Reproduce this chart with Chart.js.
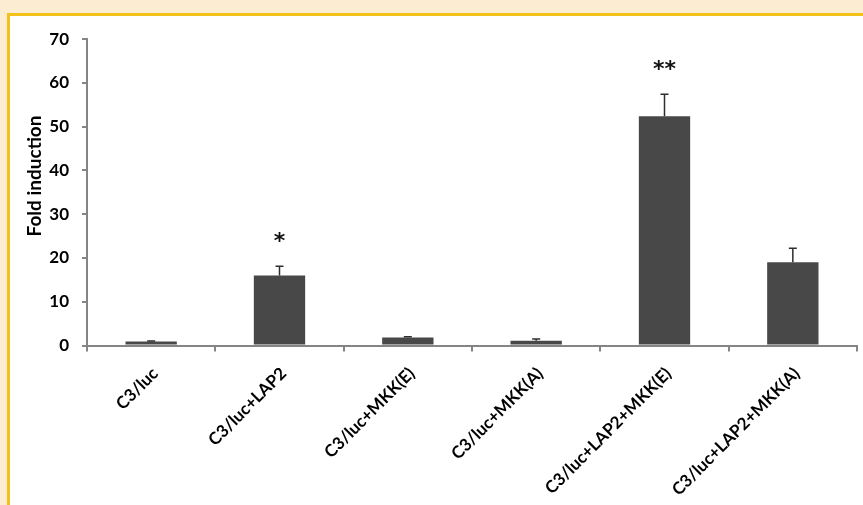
<!DOCTYPE html>
<html>
<head>
<meta charset="utf-8">
<script src="https://cdn.jsdelivr.net/npm/chart.js@4"></script>
<style>
  html, body { margin: 0; padding: 0; width: 863px; height: 505px; overflow: hidden; background: #fbecd2; }
  #panel { position: absolute; left: 7px; top: 13px; right: 0; bottom: 0; background: #ffffff;
           border-left: 3px solid #f2c21b; border-top: 3px solid #f2c21b; }
  #wrap { position: absolute; left: 0; top: 0; width: 853px; height: 489px; }
</style>
</head>
<body>
<div id="panel"><div id="wrap"><canvas id="chart" width="853" height="489"></canvas></div></div>
<script>
// Luciferase reporter assay: fold induction per construct combination
const categories = ['C3/luc', 'C3/luc+LAP2', 'C3/luc+MKK(E)', 'C3/luc+MKK(A)', 'C3/luc+LAP2+MKK(E)', 'C3/luc+LAP2+MKK(A)'];
const foldInduction = [0.9, 16.0, 1.8, 1.1, 52.4, 19.0];
const errorValues = [0.1, 2.1, 0.2, 0.4, 5.0, 3.2];
const significance = ['', '*', '', '', '**', ''];
const yTicks = [0, 10, 20, 30, 40, 50, 60, 70];

const axisGray = '#858585';
const labelFont = 'Lato, "Open Sans", sans-serif';

// Error bars (upper whisker with cap) and significance stars
const errorBarPlugin = {
  id: 'errorBars',
  afterDatasetsDraw(chart) {
    const ctx = chart.ctx;
    const yScale = chart.scales.y;
    const meta = chart.getDatasetMeta(0);
    ctx.save();
    meta.data.forEach((bar, i) => {
      const top = yScale.getPixelForValue(foldInduction[i] + errorValues[i]);
      const base = yScale.getPixelForValue(foldInduction[i]);
      ctx.strokeStyle = '#2e2e2e';
      ctx.lineWidth = 1.5;
      ctx.beginPath();
      ctx.moveTo(bar.x, base);
      ctx.lineTo(bar.x, top);
      ctx.moveTo(bar.x - 4, top);
      ctx.lineTo(bar.x + 4, top);
      ctx.stroke();
      if (significance[i]) {
        ctx.fillStyle = '#111';
        ctx.font = 'bold 22px "DejaVu Sans", sans-serif';
        ctx.textAlign = 'center';
        ctx.textBaseline = 'middle';
        ctx.fillText(significance[i], bar.x, top - 24);
      }
    });
    ctx.restore();
  }
};

// Rotated y-axis title
const yTitlePlugin = {
  id: 'yTitle',
  afterDraw(chart) {
    const ctx = chart.ctx;
    ctx.save();
    ctx.translate(25, 160);
    ctx.rotate(-Math.PI / 2);
    ctx.fillStyle = '#000';
    ctx.font = 'bold 19px ' + labelFont;
    ctx.textAlign = 'center';
    ctx.textBaseline = 'middle';
    ctx.fillText('Fold induction', 0, 0);
    ctx.restore();
  }
};

new Chart(document.getElementById('chart'), {
  type: 'bar',
  data: {
    labels: categories,
    datasets: [{
      data: foldInduction,
      backgroundColor: '#484848',
      borderWidth: 0,
      barPercentage: 0.4,
      categoryPercentage: 1.0
    }]
  },
  options: {
    responsive: false,
    animation: false,
    devicePixelRatio: 1,
    layout: { padding: { top: 22, right: 6, left: 0, bottom: 0 } },
    plugins: { legend: { display: false }, tooltip: { enabled: false } },
    scales: {
      x: {
        offset: true,
        grid: { offset: true, drawOnChartArea: false, drawTicks: true, tickLength: 6, color: axisGray, lineWidth: 2 },
        border: { display: true, color: axisGray, width: 2 },
        ticks: {
          maxRotation: 45, minRotation: 45, padding: 12, labelOffset: 4, color: '#000',
          font: { family: labelFont, size: 17, weight: 'bold' }
        },
        afterFit(scale) { scale.height = 159.5; }
      },
      y: {
        min: yTicks[0],
        max: yTicks[yTicks.length - 1],
        grid: { drawOnChartArea: false, drawTicks: true, tickLength: 5, color: axisGray, lineWidth: 2 },
        border: { display: true, color: axisGray, width: 2 },
        ticks: {
          stepSize: yTicks[1] - yTicks[0], padding: 13, color: '#000',
          font: { family: labelFont, size: 17, weight: 'bold' }
        },
        afterFit(scale) { scale.width = 77; }
      }
    }
  },
  plugins: [errorBarPlugin, yTitlePlugin]
});
</script>
</body>
</html>
